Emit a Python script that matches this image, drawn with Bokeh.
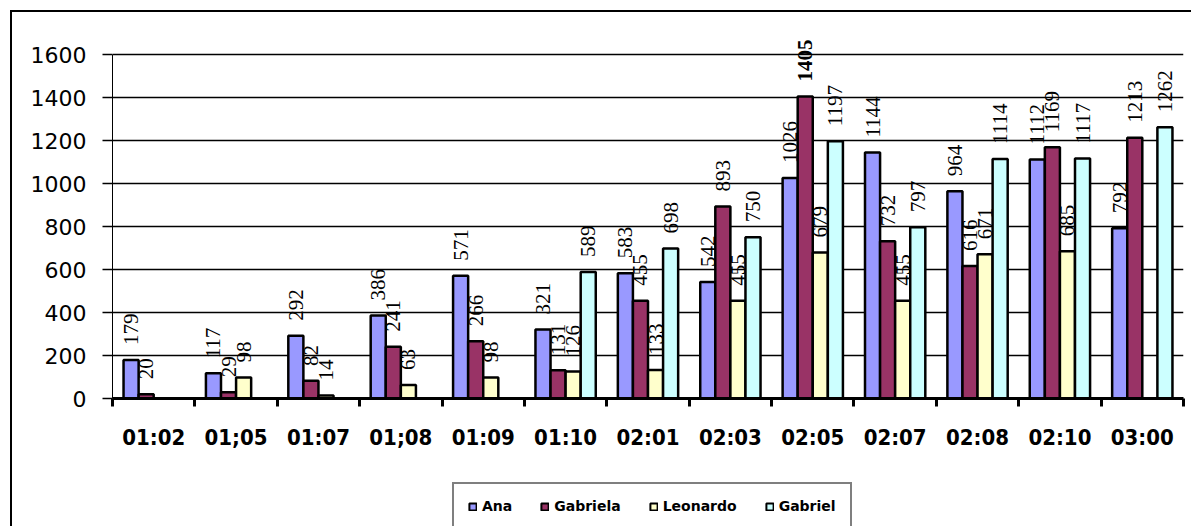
import numpy as np
from bokeh.plotting import figure
from bokeh.layouts import column
from bokeh.models import (ColumnDataSource, LabelSet, Range1d, FixedTicker,
                          LinearAxis, Legend, LegendItem)
from bokeh.core.properties import value, field
from bokeh.embed import file_html
from bokeh.resources import INLINE

# ---------------- data ----------------
categories = ["01:02", "01;05", "01:07", "01;08", "01:09", "01:10", "02:01",
              "02:03", "02:05", "02:07", "02:08", "02:10", "03:00"]
series_names = ["Ana", "Gabriela", "Leonardo", "Gabriel"]
ana = [179, 117, 292, 386, 571, 321, 583, 542, 1026, 1144, 964, 1112, 792]
gabriela = [20, 29, 82, 241, 266, 131, 455, 893, 1405, 732, 616, 1169, 1213]
leonardo = [None, 98, 14, 63, 98, 126, 133, 455, 679, 455, 671, 685, None]
gabriel = [None, None, None, None, None, 589, 698, 750, 1197, 797, 1114, 1117, 1262]
y_tick_values = [0, 200, 400, 600, 800, 1000, 1200, 1400, 1600]
colors = ["#9999FF", "#993366", "#FFFFCC", "#CCFFFF"]

series_values = [ana, gabriela, leonardo, gabriel]

# ---------------- main figure ----------------
W, H1, H2 = 1179, 468, 46
p = figure(width=W, height=H1, output_backend="svg", toolbar_location=None,
           x_range=Range1d(0, len(categories)), y_range=Range1d(0, 1712),
           x_axis_location=None, min_border_left=100, min_border_right=8,
           min_border_top=18, min_border_bottom=82)
p.outline_line_color = None
p.background_fill_color = "white"
p.border_fill_color = "white"

BW = 0.183
n = len(series_names)
lab_x, lab_y, lab_t, lab_s = [], [], [], []
sources = []
vmax = max(v for s in series_values for v in s if v is not None)
for k, (name, vals, col) in enumerate(zip(series_names, series_values, colors)):
    xs, tops = [], []
    for i, v in enumerate(vals):
        if v is None:
            continue
        xc = i + 0.5 + (k - (n - 1) / 2) * BW
        xs.append(xc)
        tops.append(v)
        lab_x.append(xc)
        lab_y.append(v)
        lab_t.append(str(v))
        lab_s.append("bold" if v == vmax else "normal")
    src = ColumnDataSource(dict(x=xs, top=tops))
    sources.append(src)
    p.vbar(x="x", top="top", width=BW, bottom=0, source=src,
           fill_color=col, line_color="black", line_width=2.5)

lab_src = ColumnDataSource(dict(x=lab_x, y=lab_y, t=lab_t, s=lab_s))
labels = LabelSet(x="x", y="y", text="t", source=lab_src, angle=np.pi / 2,
                  text_align="left", text_baseline="middle", y_offset=15,
                  text_font=value("Liberation Serif"), text_font_size="21px",
                  text_font_style=field("s"), text_color="black")
p.add_layout(labels)

# ---------------- y axis ----------------
yax = p.yaxis[0]
yax.ticker = FixedTicker(ticks=y_tick_values)
yax.bounds = (y_tick_values[0], y_tick_values[-1])
yax.major_tick_out = 10
yax.major_tick_in = 0
yax.minor_tick_line_color = None
yax.major_tick_line_width = 1.5
yax.axis_line_width = 1
yax.axis_line_color = "black"
yax.major_tick_line_color = "black"
yax.major_label_standoff = 16
yax.major_label_text_font = "DejaVu Sans"
yax.major_label_text_font_size = "22px"
yax.major_label_text_color = "black"

p.ygrid.ticker = FixedTicker(ticks=y_tick_values)
p.ygrid.grid_line_color = "black"
p.ygrid.grid_line_width = 1.5
p.xgrid.visible = False

# ---------------- x axes ----------------
bounds = list(range(len(categories) + 1))
xax1 = LinearAxis(ticker=FixedTicker(ticks=bounds),
                  major_label_overrides={b: "" for b in bounds},
                  major_label_text_font_size="0px",
                  major_tick_out=8, major_tick_in=0, major_tick_line_width=3,
                  axis_line_width=3, minor_tick_line_color=None,
                  major_label_standoff=0)
p.add_layout(xax1, "below")

centers = [i + 0.5 for i in range(len(categories))]
xax2 = LinearAxis(ticker=FixedTicker(ticks=centers),
                  major_label_overrides={c: lab for c, lab in zip(centers, categories)},
                  axis_line_color=None, major_tick_line_color=None,
                  minor_tick_line_color=None, major_tick_out=0, major_tick_in=0,
                  major_label_standoff=18,
                  major_label_text_font="DejaVu Sans Condensed",
                  major_label_text_font_style="bold",
                  major_label_text_font_size="22px",
                  major_label_text_color="black")
p.add_layout(xax2, "below")

# ---------------- legend strip ----------------
p2 = figure(width=W, height=H2, output_backend="svg", toolbar_location=None,
            x_range=Range1d(-3, -2), y_range=Range1d(0, 1),
            x_axis_location=None, y_axis_location=None,
            min_border_left=0, min_border_right=0,
            min_border_top=0, min_border_bottom=0)
p2.outline_line_color = None
p2.grid.visible = False
items = []
for name, col, src in zip(series_names, colors, sources):
    r = p2.quad(left="x", right="x", bottom=0, top="top", source=src,
                fill_color=col, line_color="black", line_width=2)
    items.append(LegendItem(label=name, renderers=[r]))

legend = Legend(items=items, orientation="horizontal", location=(340, -4),
                padding=14, spacing=28, label_standoff=5,
                glyph_width=9, glyph_height=9, label_height=16,
                label_text_font="DejaVu Sans", label_text_font_style="bold",
                label_text_font_size="14px", label_text_color="black",
                border_line_color="black", border_line_width=2,
                background_fill_color="white", background_fill_alpha=1.0,
                margin=0)
p2.add_layout(legend, "center")

layout = column(p, p2, spacing=0,
                styles={"margin-left": "10px", "margin-top": "10px",
                        "border-top": "2px solid black",
                        "border-left": "2px solid black"})

open("out.html", "w").write(file_html(layout, INLINE))
